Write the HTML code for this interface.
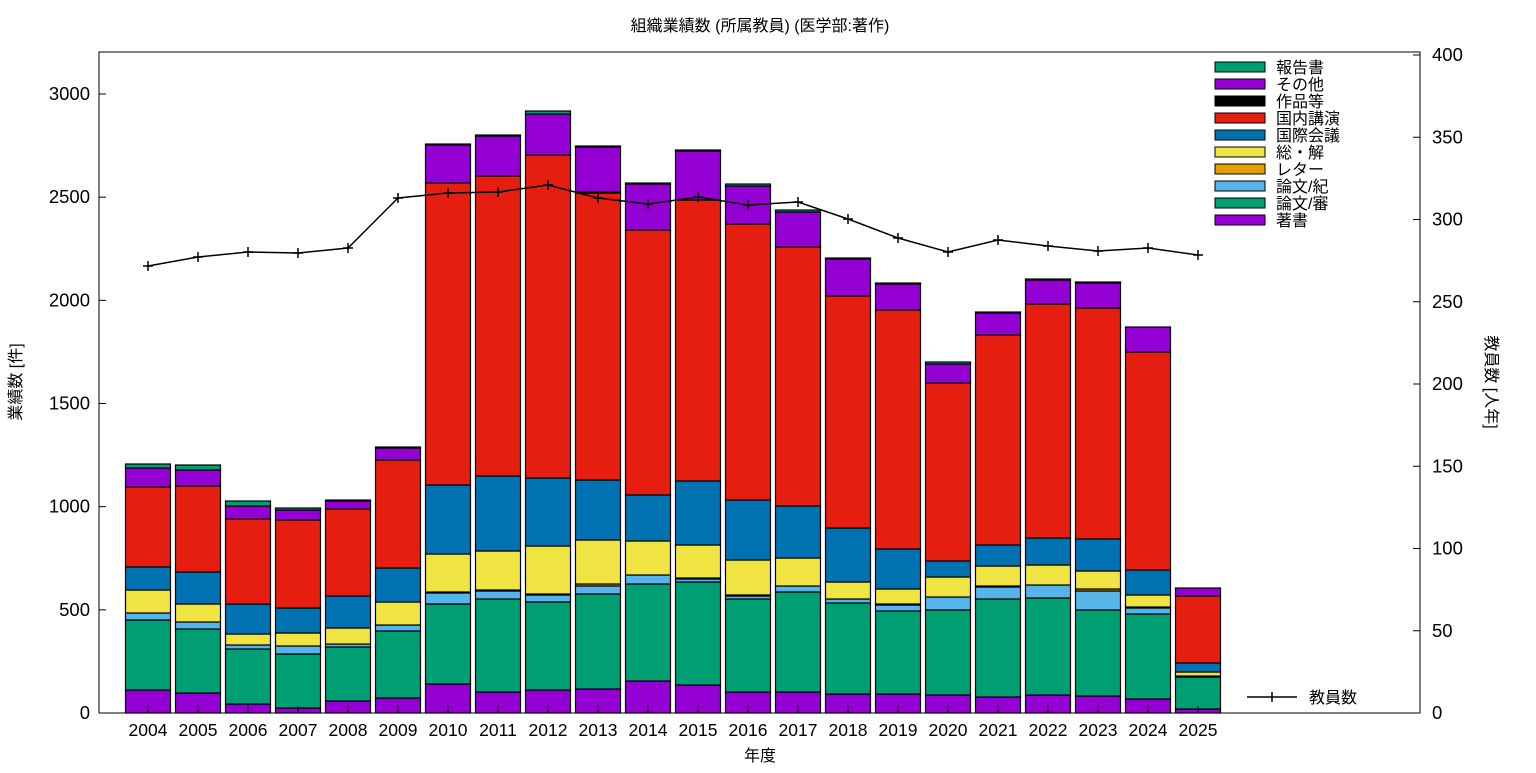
<!DOCTYPE html>
<html><head><meta charset="utf-8"><style>
body{margin:0;background:#fff}
svg{font-family:"Liberation Sans","Noto Sans CJK JP",sans-serif}
</style></head><body>
<svg id="s" width="1536" height="768" xmlns="http://www.w3.org/2000/svg"></svg>
<script>
const s=document.getElementById('s');let h='';
const cols=['#9400d3','#009e73','#56b4e9','#e69f00','#f0e442','#0072b2','#e51e10','#000000','#9400d3','#009e73'];
const B=[
[690,620,613,613,590,567,487,487,468,464],
[693,629,622,622,604,572,486,486,470,465],
[704,649,645,645,634,604,519,519,506,501],
[708,654,646,646,633,608,520,520,510,508],
[701,647,644,644,628,596,509,509,501,500],
[698,631,625,625,602,568,460,460,448,447],
[684,604,593,592,554,485,183,183,145,144],
[692,599,591,590,551,476,176,176,136,135],
[690,602,595,594,546,478,155,155,114,111],
[689,594,586,584,540,480,193,192,147,146],
[681,584,575,575,541,495,230,230,184,183],
[685,582,579,578,545,481,200,200,151,150],
[692,599,596,595,560,500,224,224,186,184],
[692,592,586,586,558,506,247,247,212,210],
[694,603,599,599,582,528,296,296,259,258],
[694,611,605,604,589,549,310,310,284,283],
[695,610,597,597,577,561,383,383,364,362],
[697,599,587,586,566,545,335,335,313,312],
[695,598,585,585,565,538,304,304,280,279],
[696,610,591,589,571,539,308,308,283,282],
[699,614,608,607,595,570,352,352,327,327],
[709,677,677,676,672,663,596,596,588,588]];
const L=[266,257,252,253,248,198,193,192,185,198,204,197,205,202,219,238,252,240,246,251,248,255];
B.forEach((b,i)=>{const cx=148+50*i,x=cx-22.5;let prev=713;
 b.forEach((t,k)=>{if(prev-t>0.5){h+=`<rect x="${x}" y="${t}" width="45" height="${prev-t}" fill="${cols[k]}" stroke="#000" stroke-width="1.2"/>`;}prev=t;});
 h+=`<line x1="${cx}" y1="713" x2="${cx}" y2="706" stroke="#000"/><text x="${cx}" y="736" font-size="17.5" text-anchor="middle">${2004+i}</text>`;
});
h+=`<rect x="99" y="52" width="1321" height="661" fill="none" stroke="#000" stroke-width="1"/>`;
for(let v=0;v<=3000;v+=500){const y=713-v*0.20633;h+=`<line x1="99" y1="${y}" x2="106" y2="${y}" stroke="#000"/><text x="90" y="${y+6}" font-size="18.5" text-anchor="end">${v}</text>`;}
for(let v=0;v<=400;v+=50){const y=713-v*1.645;h+=`<line x1="1413" y1="${y}" x2="1420" y2="${y}" stroke="#000"/><text x="1432" y="${y+6}" font-size="18.5">${v}</text>`;}
h+=`<polyline fill="none" stroke="#000" stroke-width="1.5" points="${L.map((y,i)=>(148+50*i)+','+y).join(' ')}"/>`;
L.forEach((y,i)=>{const x=148+50*i;h+=`<path d="M${x-5} ${y}h10M${x} ${y-5}v10" stroke="#000" stroke-width="1.5"/>`;});
const names=['報告書','その他','作品等','国内講演','国際会議','総・解','レター','論文/紀','論文/審','著書'];
names.forEach((n,k)=>{const y=67+17*k;h+=`<rect x="1215" y="${y-5}" width="50" height="10" fill="${cols[9-k]}" stroke="#000"/><text x="1276" y="${y+6}" font-size="16">${n}</text>`;});
h+=`<path d="M1247 697h50M1272 692v10" stroke="#000" stroke-width="1.5"/><text x="1309" y="703" font-size="16">教員数</text>`;
h+=`<text x="760" y="31" font-size="16" text-anchor="middle">組織業績数 (所属教員) (医学部:著作)</text>`;
h+=`<text x="760" y="761" font-size="16" text-anchor="middle">年度</text>`;
h+=`<text transform="translate(21,382) rotate(-90)" font-size="16" text-anchor="middle">業績数 [件]</text>`;
h+=`<text transform="translate(1486,382) rotate(90)" font-size="16" text-anchor="middle">教員数 [人年]</text>`;
s.innerHTML=h;
</script>
</body></html>
